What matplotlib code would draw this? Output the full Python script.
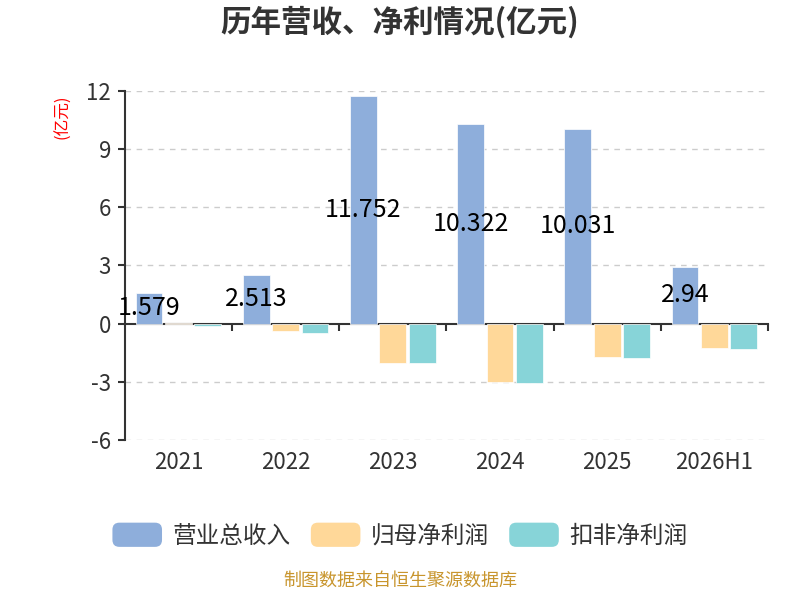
import numpy as np
import matplotlib
matplotlib.use('Agg')
import matplotlib.pyplot as plt
from matplotlib.patches import FancyBboxPatch, Patch
from matplotlib.legend_handler import HandlerPatch

plt.rcParams['font.family'] = ['Noto Sans CJK SC', 'DejaVu Sans']

categories = ['2021', '2022', '2023', '2024', '2025', '2026H1']
revenue = [1.579, 2.513, 11.752, 10.322, 10.031, 2.94]
net_profit = [0.03, -0.38, -2.02, -3.02, -1.71, -1.28]
deducted_profit = [-0.14, -0.5, -2.05, -3.09, -1.78, -1.31]
revenue_labels = ['1.579', '2.513', '11.752', '10.322', '10.031', '2.94']
series_names = ['营业总收入', '归母净利润', '扣非净利润']
colors = ['#8eaedb', '#ffd899', '#87d4d8']
yticks = [-6, -3, 0, 3, 6, 9, 12]


class RoundHandler(HandlerPatch):
    def create_artists(self, legend, orig_handle, xdescent, ydescent,
                       width, height, fontsize, trans):
        p = FancyBboxPatch((-xdescent, -ydescent), width, height,
                           boxstyle='round,pad=0,rounding_size=5',
                           facecolor=orig_handle.get_facecolor(),
                           edgecolor='none', transform=trans)
        return [p]


fig = plt.figure(figsize=(8, 6), dpi=100)
ax = fig.add_axes([0.156, 0.267, 0.804, 0.581])

x = np.arange(len(categories))
w = 0.25
off = 0.275
ax.bar(x - off, revenue, w, color=colors[0], edgecolor='white', linewidth=0.5, zorder=3)
ax.bar(x, net_profit, w, color=colors[1], edgecolor='white', linewidth=0.5, zorder=3)
ax.bar(x + off, deducted_profit, w, color=colors[2], edgecolor='white', linewidth=0.5, zorder=3)

for xi, v, lab in zip(x, revenue, revenue_labels):
    ax.text(xi - off, v / 2, lab, ha='center', va='center', fontsize=18,
            color='black', zorder=5)

ax.set_xlim(-0.5, len(categories) - 0.5)
ax.set_ylim(-6, 12)
ax.set_yticks(yticks)
ax.set_yticklabels([str(t) for t in yticks], fontsize=16, color='#333333')
for t in yticks:
    if t != 0:
        ax.axhline(t, color='#cccccc', linewidth=1, linestyle=(0, (4, 4)), zorder=1)

ax.set_xticks(x)
ax.set_xticklabels(categories, fontsize=16, color='#333333')
ax.tick_params(axis='x', length=0, pad=8)
ax.tick_params(axis='y', direction='out', length=5, width=1.5, color='#333333', pad=5)

for s in ['top', 'right', 'bottom']:
    ax.spines[s].set_visible(False)
ax.spines['left'].set_color('#333333')
ax.spines['left'].set_linewidth(1.5)

# zero axis line with ticks at category boundaries
zero_frac = (0 - (-6)) / (12 - (-6))
sec = ax.secondary_xaxis(zero_frac)
sec.set_xticks(np.arange(len(categories)) + 0.5)
sec.set_xticklabels([])
sec.tick_params(axis='x', direction='out', length=5, width=1.5, color='#333333')
sec.spines['bottom'].set_color('#333333')
sec.spines['bottom'].set_linewidth(1.5)
sec.xaxis.set_ticks_position('bottom')
sec.spines['top'].set_visible(False)

fig.text(0.079, 0.805, '(亿元)', rotation=90, color='red', fontsize=12,
         ha='center', va='center')

fig.text(0.5, 0.962, '历年营收、净利情况(亿元)', ha='center', va='center',
         fontsize=22, fontweight='bold', color='#333333')

handles = [Patch(facecolor=c) for c in colors]
fig.legend(handles, series_names, loc='center', bbox_to_anchor=(0.5, 0.108),
           ncol=3, frameon=False, fontsize=17, handlelength=2.1, handleheight=1.2,
           handletextpad=0.45, columnspacing=0.85, labelcolor='#333333',
           handler_map={Patch: RoundHandler()})

fig.text(0.5, 0.017, '制图数据来自恒生聚源数据库', ha='center', va='bottom',
         fontsize=13, color='#c8952d')

fig.savefig('out.png', dpi=100)
